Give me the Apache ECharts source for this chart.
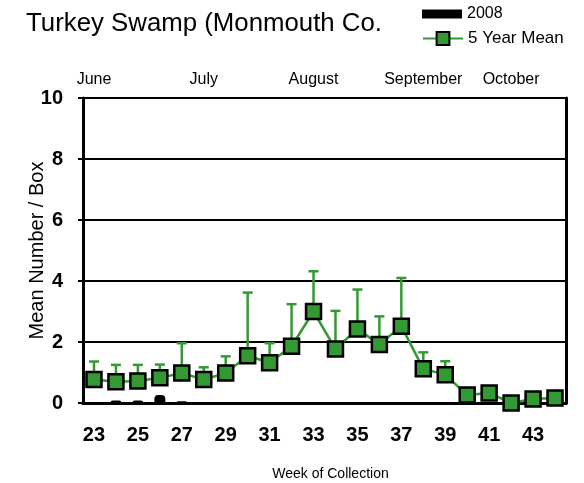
<!DOCTYPE html>
<html>
<head>
<meta charset="utf-8">
<script src="https://cdn.jsdelivr.net/npm/echarts@6/dist/echarts.min.js"></script>
<style>
  html, body { margin: 0; padding: 0; background: #fff; }
  #chart { width: 584px; height: 483px; }
</style>
</head>
<body>
<div id="chart"></div>
<script>
// week numbers along the bottom axis
const weeks = ["23", "24", "25", "26", "27", "28", "29", "30", "31", "32", "33",
  "34", "35", "36", "37", "38", "39", "40", "41", "42", "43", "44"];
// month names shown on the top axis (blank where there is none)
const monthLabels = ["June", "", "", "", "", "July", "", "", "", "", "August",
  "", "", "", "", "September", "", "", "", "October", "", ""];
const values2008 = [0, 0.08, 0.08, 0.26, 0.06, 0, 0, 0, 0, 0, 0,
  0, 0, 0, 0, 0, 0, 0, 0, 0, 0, 0];
const mean5yr = [0.77, 0.70, 0.72, 0.83, 0.98, 0.77, 0.98, 1.55, 1.32, 1.86, 3.0,
  1.77, 2.43, 1.92, 2.52, 1.12, 0.93, 0.26, 0.33, 0.0, 0.13, 0.16];
// top of the error bar (mean + sd)
const meanUpper = [1.36, 1.25, 1.25, 1.26, 1.96, 1.17, 1.53, 3.62, 1.96, 3.24, 4.32,
  3.02, 3.72, 2.84, 4.10, 1.66, 1.37, null, null, null, null, null];
const yTicks = [0, 2, 4, 6, 8, 10];

const green = "#339933";
const font = "Liberation Sans, Arial, sans-serif";

const chart = echarts.init(document.getElementById("chart"));

const errData = meanUpper
  .map((u, i) => (u == null ? null : [i, mean5yr[i], u]))
  .filter(Boolean);

const option = {
  animation: false,
  textStyle: { fontFamily: font, color: "#000" },
  title: {
    text: "Turkey Swamp (Monmouth Co.",
    left: 21,
    top: 6,
    textStyle: { fontSize: 25.8, fontWeight: "normal", color: "#000", fontFamily: font }
  },
  legend: [
    {
      data: ["2008"],
      left: 417,
      top: 1,
      icon: "rect",
      itemWidth: 40,
      itemHeight: 9,
      textStyle: { fontSize: 16, color: "#000", fontFamily: font }
    },
    {
      data: ["5 Year Mean"],
      left: 417,
      top: 25,
      itemWidth: 40,
      itemHeight: 16,
      textStyle: { fontSize: 17, color: "#000", fontFamily: font }
    }
  ],
  grid: { left: 83, right: 18, top: 98, bottom: 80, outerBoundsMode: "none" },
  xAxis: [
    {
      type: "category",
      position: "bottom",
      data: weeks,
      name: "Week of Collection",
      nameLocation: "middle",
      nameGap: 64,
      nameMoveOverlap: false,
      nameTextStyle: { fontSize: 14, color: "#000", fontFamily: font, padding: [0, 0, 0, 12] },
      axisLine: { lineStyle: { color: "#000", width: 3 } },
      axisTick: { interval: 0, length: 5, lineStyle: { color: "#000", width: 2 } },
      axisLabel: { interval: 1, fontSize: 20, fontWeight: "bold", color: "#000", margin: 22 }
    },
    {
      type: "category",
      position: "top",
      data: weeks,
      axisLine: { lineStyle: { color: "#000", width: 3 } },
      axisTick: { interval: 0, length: 5, lineStyle: { color: "#000", width: 2 } },
      axisLabel: {
        interval: 0,
        fontSize: 16,
        color: "#000",
        margin: 10,
        formatter: (v, i) => monthLabels[i]
      }
    },
    {
      type: "category",
      position: "top",
      data: weeks,
      axisLine: { show: false },
      axisTick: { inside: true, interval: 0, length: 5, lineStyle: { color: "#000", width: 2 } },
      axisLabel: { show: false }
    }
  ],
  yAxis: [
    {
      type: "value",
      position: "left",
      min: yTicks[0],
      max: yTicks[yTicks.length - 1],
      interval: 2,
      name: "Mean Number / Box",
      nameLocation: "middle",
      nameGap: 36,
      nameMoveOverlap: false,
      nameTextStyle: { fontSize: 20, color: "#000", fontFamily: font },
      axisLine: { show: true, lineStyle: { color: "#000", width: 3 } },
      axisTick: { show: true, length: 5, lineStyle: { color: "#000", width: 2 } },
      axisLabel: { fontSize: 20, fontWeight: "bold", color: "#000", margin: 20 },
      splitLine: { lineStyle: { color: "#000", width: 2 } }
    },
    {
      type: "value",
      position: "left",
      min: 0,
      max: 10,
      interval: 2,
      axisLine: { show: false },
      axisTick: { show: true, inside: true, length: 5, lineStyle: { color: "#000", width: 2 } },
      axisLabel: { show: false },
      splitLine: { show: false }
    },
    {
      type: "value",
      position: "right",
      min: 0,
      max: 10,
      interval: 2,
      axisLine: { show: true, lineStyle: { color: "#000", width: 3 } },
      axisTick: { show: false },
      axisLabel: { show: false },
      splitLine: { show: false }
    }
  ],
  series: [
    {
      name: "2008",
      type: "bar",
      data: values2008,
      barWidth: 11,
      itemStyle: { color: "#000", borderRadius: [4, 4, 0, 0] },
      z: 3
    },
    {
      name: "error",
      type: "custom",
      data: errData,
      z: 4,
      renderItem(params, api) {
        const base = api.coord([api.value(0), api.value(1)]);
        const top = api.coord([api.value(0), api.value(2)]);
        const st = { stroke: green, lineWidth: 2.5 };
        return {
          type: "group",
          children: [
            { type: "line", shape: { x1: base[0], y1: base[1], x2: top[0], y2: top[1] }, style: st },
            { type: "line", shape: { x1: top[0] - 5, y1: top[1], x2: top[0] + 5, y2: top[1] }, style: st }
          ]
        };
      }
    },
    {
      name: "5 Year Mean",
      type: "line",
      data: mean5yr,
      symbol: "rect",
      symbolSize: 15,
      showAllSymbol: true,
      lineStyle: { color: green, width: 2.5 },
      itemStyle: { color: green, borderColor: "#000", borderWidth: 2.5 },
      z: 5
    }
  ]
};

chart.setOption(option);
</script>
</body>
</html>
